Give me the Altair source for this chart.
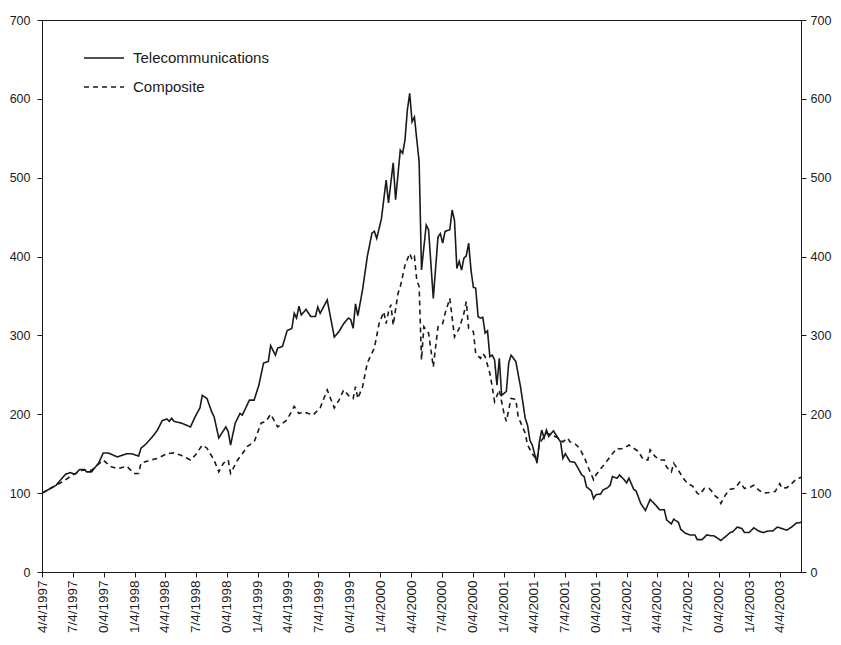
import altair as alt
import pandas as pd

START = pd.Timestamp("1997-04-04")

series_names = ["Telecommunications", "Composite"]

telecom_weeks = [0, 6, 10, 12, 14, 16, 18, 19, 21, 24, 26, 28, 32, 34, 36, 38, 40, 41, 42, 44, 47, 49, 51, 53, 54, 55, 56, 59, 63, 65, 67, 68, 70, 72, 73, 75, 78, 79, 80, 82, 84, 85, 88, 90, 92, 94, 96, 97, 99, 100, 102, 104, 106, 107, 108, 109, 110, 112, 114, 116, 117, 118, 121, 124, 126, 128, 130, 131, 132, 133, 134, 136, 138, 140, 141, 142, 144, 146, 147, 149, 150, 152, 153, 154, 155, 156, 157, 158, 160, 161, 163, 164, 166, 168, 169, 170, 171, 173, 174, 175, 176, 177, 178, 179, 180, 181, 182, 183, 184, 185, 186, 187, 188, 189, 190, 191, 192, 193, 194, 195, 197, 198, 199, 201, 203, 205, 206, 207, 208, 210, 211, 212, 213, 214, 215, 217, 218, 220, 221, 222, 224, 226, 227, 229, 230, 231, 233, 234, 235, 237, 238, 240, 241, 242, 244, 245, 247, 248, 249, 251, 252, 254, 256, 258, 260, 262, 264, 265, 267, 268, 270, 271, 273, 275, 277, 278, 280, 282, 284, 285, 288, 290, 292, 293, 295, 297, 298, 300, 302, 304, 306, 308, 310, 312, 314, 316, 318, 320, 322]
telecom_values = [100, 110, 124, 126, 124, 130, 130, 127, 127, 138, 151, 151, 146, 148, 150, 150, 148, 147, 157, 162, 172, 180, 192, 194, 191, 195, 191, 189, 184, 197, 208, 224, 220, 203, 197, 170, 184, 178, 161, 189, 201, 199, 218, 218, 237, 265, 267, 287, 275, 284, 286, 306, 309, 328, 322, 337, 326, 333, 324, 324, 336, 328, 345, 298, 305, 315, 322, 320, 309, 340, 325, 358, 400, 430, 432, 423, 448, 497, 468, 519, 472, 535, 531, 548, 586, 607, 571, 577, 520, 383, 440, 434, 347, 425, 429, 417, 432, 434, 459, 446, 385, 394, 383, 398, 401, 417, 383, 361, 360, 324, 322, 323, 303, 306, 273, 275, 269, 237, 271, 224, 229, 265, 275, 267, 235, 195, 186, 167, 161, 138, 165, 180, 170, 180, 172, 179, 174, 165, 144, 150, 140, 139, 134, 123, 121, 108, 103, 93, 98, 99, 104, 107, 110, 121, 119, 123, 117, 113, 119, 105, 103, 87, 78, 92, 86, 79, 79, 66, 61, 67, 63, 54, 49, 47, 47, 41, 41, 47, 46, 46, 40, 45, 50, 51, 57, 55, 50, 50, 56, 52, 50, 52, 52, 57, 55, 53, 57, 62, 63]

composite_weeks = [0, 9, 13, 17, 21, 26, 29, 32, 36, 39, 41, 42, 46, 49, 53, 56, 59, 63, 65, 68, 70, 73, 75, 77, 79, 80, 83, 85, 87, 90, 93, 95, 97, 100, 104, 107, 109, 111, 113, 115, 118, 121, 124, 126, 128, 130, 132, 133, 134, 136, 138, 141, 143, 145, 146, 147, 148, 149, 151, 152, 154, 156, 157, 158, 159, 160, 161, 162, 164, 166, 168, 170, 171, 173, 175, 177, 179, 180, 181, 183, 184, 186, 187, 188, 190, 191, 192, 194, 196, 197, 199, 201, 202, 205, 206, 208, 210, 211, 214, 216, 219, 221, 223, 224, 226, 228, 230, 232, 234, 235, 237, 239, 242, 244, 245, 247, 249, 251, 253, 255, 257, 258, 260, 262, 264, 265, 267, 268, 270, 272, 274, 276, 278, 279, 281, 283, 284, 285, 287, 288, 290, 292, 294, 296, 298, 300, 302, 304, 306, 309, 311, 313, 314, 316, 318, 320, 322]
composite_values = [100, 115, 123, 129, 129, 142, 134, 131, 134, 125, 125, 138, 142, 144, 150, 151, 148, 142, 148, 161, 157, 142, 127, 138, 142, 125, 142, 150, 159, 165, 189, 191, 200, 184, 193, 210, 201, 203, 201, 199, 208, 231, 208, 218, 231, 224, 220, 235, 220, 235, 265, 284, 315, 330, 315, 330, 339, 313, 353, 362, 389, 404, 396, 400, 370, 362, 269, 311, 303, 260, 311, 315, 328, 347, 298, 309, 328, 343, 309, 305, 277, 271, 277, 273, 252, 235, 216, 231, 201, 191, 220, 219, 197, 176, 161, 150, 142, 163, 176, 174, 170, 165, 170, 165, 163, 157, 146, 131, 117, 123, 131, 138, 150, 157, 156, 157, 161, 157, 153, 143, 142, 155, 147, 142, 142, 133, 127, 138, 129, 119, 112, 109, 100, 98, 106, 106, 103, 98, 93, 87, 98, 105, 106, 114, 106, 107, 110, 104, 100, 101, 102, 112, 106, 107, 112, 118, 120]

tick_dates = [(1997, 4), (1997, 7), (1997, 10), (1998, 1), (1998, 4), (1998, 7), (1998, 10),
              (1999, 1), (1999, 4), (1999, 7), (1999, 10), (2000, 1), (2000, 4), (2000, 7),
              (2000, 10), (2001, 1), (2001, 4), (2001, 7), (2001, 10), (2002, 1), (2002, 4),
              (2002, 7), (2002, 10), (2003, 1), (2003, 4)]
y_ticks = [0, 100, 200, 300, 400, 500, 600, 700]

def frame(name, weeks, values):
    return pd.DataFrame({
        "date": [START + pd.Timedelta(days=7 * w) for w in weeks],
        "value": values,
        "series": name,
    })

df = pd.concat([frame(series_names[0], telecom_weeks, telecom_values),
                frame(series_names[1], composite_weeks, composite_values)], ignore_index=True)

FONT = "Liberation Sans"
INK = "#1a1a1a"
end_date = START + pd.Timedelta(days=7 * 322)

x_scale = alt.Scale(domain=[alt.DateTime(year=1997, month=4, date=4),
                            alt.DateTime(year=end_date.year, month=end_date.month, date=end_date.day)],
                    nice=False)
x_axis = alt.Axis(values=[alt.DateTime(year=y, month=m, date=4) for y, m in tick_dates],
                  labelExpr="((month(datum.value)+1)%10) + '/' + date(datum.value) + '/' + year(datum.value)",
                  labelAngle=-90, title=None, grid=False, tickSize=5, labelPadding=3,
                  labelFontSize=13.5, labelFont=FONT, labelColor=INK, domainColor=INK, tickColor=INK,
                  labelOverlap=False, labelFlush=False)

y_scale = alt.Scale(domain=[0, 700], nice=False)

def y_axis(orient):
    return alt.Axis(values=y_ticks, orient=orient, title=None, grid=False, tickSize=5,
                    labelPadding=7 if orient == "left" else 4, labelFontSize=12.5, labelFont=FONT,
                    labelColor=INK, domainColor=INK, tickColor=INK)

lines = alt.Chart(df).mark_line(color=INK, strokeWidth=1.6).encode(
    x=alt.X("date:T", scale=x_scale, axis=x_axis),
    y=alt.Y("value:Q", scale=y_scale, axis=y_axis("left")),
    strokeDash=alt.StrokeDash(
        "series:N",
        scale=alt.Scale(domain=series_names, range=[[1, 0], [5, 4]]),
        sort=series_names,
        legend=alt.Legend(title=None, orient="none", legendX=41, legendY=17,
                          symbolType="stroke", symbolSize=1600, symbolStrokeColor=INK,
                          symbolStrokeWidth=1.5, labelFontSize=15, labelFont=FONT,
                          labelColor=INK, rowPadding=-19, labelOffset=8),
    ),
)

right = alt.Chart(df).mark_line(strokeOpacity=0).encode(
    x=alt.X("date:T", scale=x_scale, axis=x_axis),
    y=alt.Y("value:Q", scale=y_scale, axis=y_axis("right")),
    detail="series:N",
)

chart = alt.layer(lines, right).resolve_scale(y="independent").properties(
    width=759, height=552,
    background="white",
    autosize=alt.AutoSizeParams(type="none"),
    padding={"left": 34, "top": 12, "right": 32, "bottom": 65},
).configure_view(stroke=INK, strokeWidth=1)

chart.save("out.html", embed_options={"renderer": "svg", "actions": False})
